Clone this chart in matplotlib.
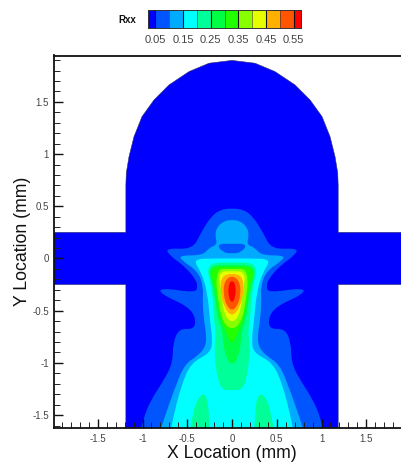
import matplotlib
matplotlib.use("Agg")
import matplotlib.pyplot as plt
from matplotlib.patches import PathPatch, Polygon
from matplotlib.path import Path
from matplotlib.colors import BoundaryNorm, ListedColormap
import numpy as np

plt.rcParams["font.family"] = ["Liberation Sans", "DejaVu Sans"]

W, H = 401, 468

# colour legend
level_edges = [0.0236, 0.05, 0.10, 0.15, 0.20, 0.25, 0.30, 0.35, 0.40, 0.45, 0.50, 0.55, 0.575]
level_colors = ["#0000ff", "#0055ff", "#00aaff", "#00ffff", "#00ff99", "#00ff44",
                "#22ff00", "#88ff00", "#e6ff00", "#ffb000", "#ff5500", "#ff0000"]
legend_ticks = [0.05, 0.15, 0.25, 0.35, 0.45, 0.55]

# outline of the part, right half, mm
domain_x = [0.0, 0.257, 0.48, 0.704, 0.872, 1.006, 1.095, 1.151, 1.181, 1.186, 1.186, 2.0, 2.0, 1.186, 1.186]
domain_y = [1.897, 1.87, 1.79, 1.662, 1.518, 1.358, 1.167, 0.975, 0.819, 0.7, 0.25, 0.25, -0.25, -0.25, -1.62]

# Rxx contour outlines, right half, mm (control points of the curves)
r05_x = [0, .126, .237, .348, .44, .74, .70, .533, .404, .385, .404, .80, .80, .496, .404, .422,
         .59, .66, .663, .756, .904, .996, 1.06]
r05_y = [.48, .47, .40, .246, .086, .10, .03, -.073, -.20, -.265, -.329, -.28, -.34, -.457, -.568, -.68,
         -.67, -.808, -.999, -1.159, -1.35, -1.542, -1.8]
r10_x = [0, .089, .17, .19, .163, .256, .33, .59, .56, .385, .319, .33, .31, .29, .29, .385, .533, .644, .737, .86]
r10_y = [.37, .36, .30, .214, .134, .102, .029, .03, -.02, -.121, -.265, -.425, -.616, -.71, -.84, -.935, -1.015,
         -1.255, -1.478, -1.8]
lens_x = [0, .17, .11, 0]
lens_y = [.14, .14, .06, .045]
r15_x = [.2, .44, .34, .274, .244, .219, .237, .459, .57, .663, .72]
r15_y = [0, -.005, -.137, -.329, -.616, -.776, -.903, -.999, -1.223, -1.542, -1.8]
r20_x = [0, .30, .22, .2, .181, .2, .163, .107, 0]
r20_y = [-.035, -.045, -.297, -.616, -.68, -.903, -1.159, -1.26, -1.26]
r20_lobe_x = [.33, .4, .44, .50, .24, .26, .28]
r20_lobe_y = [-1.29, -1.37, -1.5, -1.8, -1.8, -1.45, -1.33]
r25_x = [0, .28, .2, .16, .11, .09, 0]
r25_y = [-.06, -.07, -.297, -.584, -.68, -.9, -1.05]
r30_x = [0, .265, .18, .144, .07, 0]
r30_y = [-.08, -.08, -.297, -.552, -.7, -.84]
r35_x = [0, .19, .15, .089, 0]
r35_y = [-.10, -.10, -.457, -.63, -.68]
r40_x = [0, .155, .125, .089, 0]
r40_y = [-.12, -.13, -.297, -.54, -.62]
r45_x = [0, .115, .135, .089, 0]
r45_y = [-.14, -.17, -.297, -.47, -.56]
r50_x = [0, .09, .095, .055, 0]
r50_y = [-.16, -.22, -.36, -.46, -.50]
r55_x = [0, .04, .04, 0]
r55_y = [-.205, -.25, -.37, -.43]

x_ticks = [-1.5, -1, -0.5, 0, 0.5, 1, 1.5]
x_tick_labels = ["-1.5", "-1", "-0.5", "0", "0.5", "1", "1.5"]
y_ticks = [-1.5, -1, -0.5, 0, 0.5, 1, 1.5]
y_tick_labels = ["-1.5", "-1", "-0.5", "0", "0.5", "1", "1.5"]


def mirrored(xs, ys):
    """Close a right-half outline with its mirror image."""
    xs = np.asarray(xs, dtype=float)
    ys = np.asarray(ys, dtype=float)
    keep = xs[::-1] > 0
    return np.column_stack([np.r_[xs, -xs[::-1][keep]], np.r_[ys, ys[::-1][keep]]])


def smooth_path(pts):
    """Closed curve using the outline points as quadratic control points."""
    next_pts = np.roll(pts, -1, axis=0)
    mids = (pts + next_pts) / 2
    verts = [mids[-1]]
    codes = [Path.MOVETO]
    for ctrl, mid in zip(pts, mids):
        verts += [ctrl, mid]
        codes += [Path.CURVE3, Path.CURVE3]
    return Path(verts, codes)


fig = plt.figure(figsize=(W / 100, H / 100), dpi=100, facecolor="white")
ax = fig.add_axes([54 / W, 1 - 427.5 / H, (W - 54) / W, (427.5 - 55.5) / H])
ax.set_xlim(-1.989, 1.888)
ax.set_ylim(-1.619, 1.944)

domain = Polygon(mirrored(domain_x, domain_y), closed=True, facecolor=level_colors[0],
                 edgecolor="#30306a", linewidth=0.4, zorder=1)
ax.add_patch(domain)

contours = [
    (r05_x, r05_y, level_colors[1]),
    (r10_x, r10_y, level_colors[2]),
    (lens_x, lens_y, level_colors[1]),
    (r15_x, r15_y, level_colors[3]),
    (r20_x, r20_y, level_colors[4]),
    (r25_x, r25_y, level_colors[5]),
    (r30_x, r30_y, level_colors[6]),
    (r35_x, r35_y, level_colors[7]),
    (r40_x, r40_y, level_colors[8]),
    (r45_x, r45_y, level_colors[9]),
    (r50_x, r50_y, level_colors[10]),
    (r55_x, r55_y, level_colors[11]),
]
for i, (xs, ys, color) in enumerate(contours):
    ax.add_patch(PathPatch(smooth_path(mirrored(xs, ys)), facecolor=color, edgecolor="none", zorder=2 + i * 0.1))

# the two side lobes near the bottom
lobe = np.column_stack([r20_lobe_x, r20_lobe_y])
for side in [1, -1]:
    ax.add_patch(PathPatch(smooth_path(lobe * [side, 1]), facecolor=level_colors[4], edgecolor="none", zorder=2.35))

ax.spines["right"].set_visible(False)
for side in ["top", "left", "bottom"]:
    ax.spines[side].set_linewidth(1.3)
    ax.spines[side].set_color("#111111")
    ax.spines[side].set_zorder(5)

ax.set_xticks(x_ticks)
ax.set_xticklabels(x_tick_labels)
ax.set_yticks(y_ticks)
ax.set_yticklabels(y_tick_labels)
ax.set_xticks(np.arange(-19, 19) / 10, minor=True)
ax.set_yticks(np.arange(-16, 20) / 10, minor=True)
ax.tick_params(which="major", direction="in", length=6.5, width=1.0, color="#111111",
               labelsize=7, labelcolor="#444444", zorder=5)
ax.tick_params(axis="x", which="major", pad=5)
ax.tick_params(axis="y", which="major", pad=3.5)
ax.tick_params(which="minor", direction="in", length=4, width=0.7, color="#222222", zorder=5)
ax.set_axisbelow(False)
ax.set_xlabel("X Location (mm)", fontsize=12.7, color="#111111")
ax.set_ylabel("Y Location (mm)", fontsize=12.7, color="#111111")
ax.xaxis.set_label_coords((232 - 54) / (W - 54), -26 / 372, transform=ax.transAxes)
ax.xaxis.label.set_verticalalignment("center")
ax.yaxis.set_label_coords(-31 / (W - 54), 0.5, transform=ax.transAxes)
ax.yaxis.label.set_verticalalignment("center")

# legend bar
cax = fig.add_axes([148 / W, 1 - 28 / H, (300.7 - 148) / W, 18 / H])
cmap = ListedColormap(level_colors)
norm = BoundaryNorm(level_edges, cmap.N)
mids = (np.array(level_edges[:-1]) + np.array(level_edges[1:])) / 2
cax.pcolormesh(level_edges, [0, 1], mids[np.newaxis, :], cmap=cmap, norm=norm)
cax.vlines(level_edges[1:-1], 0, 1, color="#333333", linewidth=0.4)
cax.vlines(legend_ticks, 0, 1, color="#111111", linewidth=0.8)
cax.set_xlim(level_edges[0], level_edges[-1])
cax.set_ylim(0, 1)
cax.set_yticks([])
cax.set_xticks(legend_ticks)
cax.set_xticklabels([f"{t:.2f}" for t in legend_ticks])
cax.tick_params(axis="x", length=0, labelsize=8, labelcolor="#444444", pad=5)
for spine in cax.spines.values():
    spine.set_linewidth(0.7)
    spine.set_color("#333333")
fig.text(127 / W, 1 - 20 / H, "Rxx", fontsize=7, fontweight="bold", color="#111111", ha="center", va="center")

fig.savefig("out.png", dpi=100)
plt.close(fig)
